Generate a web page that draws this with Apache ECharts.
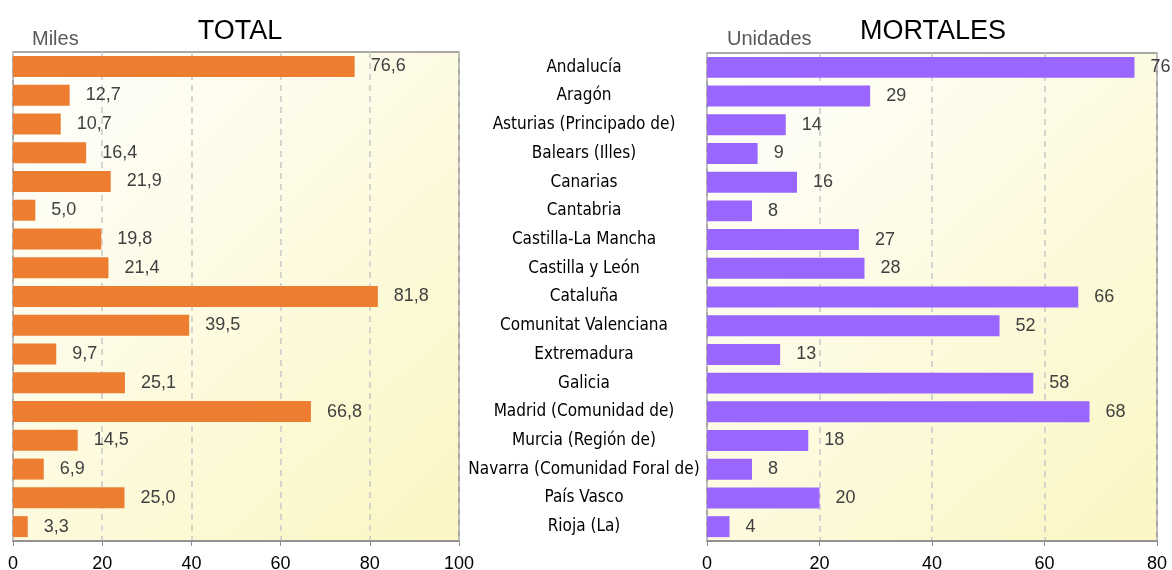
<!DOCTYPE html>
<html lang="es">
<head>
    <meta charset="UTF-8">
    <title>Total y mortales</title>
    <script src="https://cdn.jsdelivr.net/npm/echarts@6/dist/echarts.min.js"></script>
</head>
<style>
    html, body { margin: 0; padding: 0; background-color: #FFFFFF; }
</style>
<body>
<div id="main" style="width: 1172px;height:570px;"></div>
<script>
    // datos
    var regiones = ['Andalucía', 'Aragón', 'Asturias (Principado de)', 'Balears (Illes)', 'Canarias', 'Cantabria',
        'Castilla-La Mancha', 'Castilla y León', 'Cataluña', 'Comunitat Valenciana', 'Extremadura', 'Galicia',
        'Madrid (Comunidad de)', 'Murcia (Región de)', 'Navarra (Comunidad Foral de)', 'País Vasco', 'Rioja (La)'];
    var total = [76.6, 12.7, 10.7, 16.4, 21.9, 5.0, 19.8, 21.4, 81.8, 39.5, 9.7, 25.1, 66.8, 14.5, 6.9, 25.0, 3.3];
    var mortales = [76, 29, 14, 9, 16, 8, 27, 28, 66, 52, 13, 58, 68, 18, 8, 20, 4];
    var ticksTotal = [0, 100, 20];
    var ticksMortales = [0, 80, 20];

    var myChart = echarts.init(document.getElementById('main'));

    var fuente = 'Liberation Sans, Arial, sans-serif';
    var fondo = {
        type: 'linear', x: 0, y: 0, x2: 1, y2: 1,
        colorStops: [{offset: 0, color: '#FFFFFF'}, {offset: 1, color: '#FBF6C2'}]
    };
    var gridBase = {show: true, borderColor: '#8C8C8C', borderWidth: 1.5, backgroundColor: fondo,
        containLabel: false, outerBoundsMode: 'none'};

    function ejeX(idx, t) {
        return {
            type: 'value', gridIndex: idx, min: t[0], max: t[1], interval: t[2],
            axisLine: {show: true, lineStyle: {color: '#8C8C8C', width: 1.5}},
            axisTick: {show: true, length: 5, lineStyle: {color: '#8C8C8C'}},
            axisLabel: {color: '#000', fontSize: 18, fontFamily: fuente, margin: 14},
            splitLine: {show: true, lineStyle: {color: '#C8C8C8', type: [6, 5], width: 1.5}}
        };
    }

    var option = {
        animation: false,
        title: [
            {text: 'TOTAL', left: 235, top: 13, textAlign: 'center',
                textStyle: {fontSize: 27, fontWeight: 'normal', color: '#000', fontFamily: fuente}},
            {text: 'MORTALES', left: 928, top: 13, textAlign: 'center',
                textStyle: {fontSize: 27, fontWeight: 'normal', color: '#000', fontFamily: fuente}},
            {text: 'Miles', left: 27, top: 24,
                textStyle: {fontSize: 20, fontWeight: 'normal', color: '#595959', fontFamily: fuente}},
            {text: 'Unidades', left: 722, top: 24,
                textStyle: {fontSize: 20, fontWeight: 'normal', color: '#595959', fontFamily: fuente}}
        ],
        grid: [
            Object.assign({left: 13, right: 713, top: 52, bottom: 29}, gridBase),
            Object.assign({left: 707, right: 15, top: 53, bottom: 29}, gridBase)
        ],
        xAxis: [ejeX(0, ticksTotal), ejeX(1, ticksMortales)],
        yAxis: [
            {type: 'category', gridIndex: 0, data: regiones, inverse: true,
                axisLine: {show: false}, axisTick: {show: false}, axisLabel: {show: false}},
            {type: 'category', gridIndex: 1, data: regiones, inverse: true,
                axisLine: {show: false}, axisTick: {show: false},
                axisLabel: {color: '#000', fontSize: 17, fontFamily: 'DejaVu Sans Condensed, sans-serif',
                    align: 'center', margin: 123, padding: [6, 0, 0, 0]}}
        ],
        series: [
            {type: 'bar', xAxisIndex: 0, yAxisIndex: 0, data: total, barWidth: '73%',
                itemStyle: {color: '#ED7D31'},
                label: {show: true, position: 'right', distance: 16, color: '#404040', fontSize: 18,
                    fontFamily: fuente, padding: [3, 0, 0, 0],
                    formatter: function (p) { return p.value.toFixed(1).replace('.', ','); }}},
            {type: 'bar', xAxisIndex: 1, yAxisIndex: 1, data: mortales, barWidth: '73%',
                itemStyle: {color: '#9966FF'},
                label: {show: true, position: 'right', distance: 16, color: '#404040', fontSize: 18,
                    fontFamily: fuente, padding: [3, 0, 0, 0]}}
        ]
    };
    myChart.setOption(option);
</script>
</body>
</html>
